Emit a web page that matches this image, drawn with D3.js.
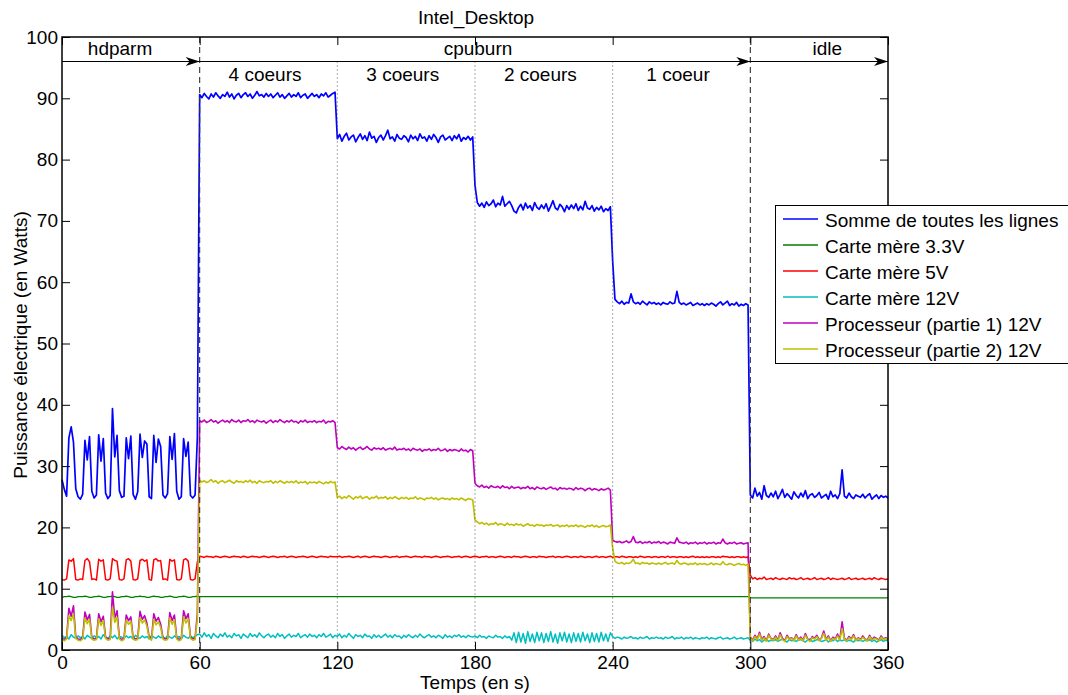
<!DOCTYPE html>
<html><head><meta charset="utf-8">
<script src="https://cdn.jsdelivr.net/npm/d3@7"></script>
<style>
body{margin:0;background:#fff}
svg text{font-family:"Liberation Sans",Arial,Helvetica,sans-serif;fill:#000}
</style>
</head><body>
<svg id="chart" width="1068" height="695"></svg>
<script>
// ---------- DATA ----------
const chartTitle = "Intel_Desktop";
const xLabel = "Temps (en s)";
const yLabel = "Puissance électrique (en Watts)";
const xTicks = [0, 60, 120, 180, 240, 300, 360];
const yTicks = [0, 10, 20, 30, 40, 50, 60, 70, 80, 90, 100];
const seriesNames = ["Somme de toutes les lignes", "Carte mère 3.3V", "Carte mère 5V", "Carte mère 12V", "Processeur (partie 1) 12V", "Processeur (partie 2) 12V"];
const seriesColors = ["#0000ff", "#008000", "#ff0000", "#00bfbf", "#bf00bf", "#bfbf00"];
// one sample per second, t = 0 .. 360
const somme = [
27.8,26.2,25.1,34.6,36.4,33.9,26.3,25.0,24.6,25.4,
34.2,31.0,34.8,25.9,24.8,25.3,35.1,30.8,34.5,25.6,
24.7,25.2,39.4,31.5,35.0,26.0,24.9,25.1,34.6,31.2,
34.9,25.4,24.6,25.8,35.2,31.4,34.1,33.6,25.0,24.7,
35.0,30.6,34.4,33.2,25.3,24.8,25.5,34.8,31.1,35.3,
25.9,24.6,25.0,34.5,31.6,33.9,25.2,24.8,25.3,34.7,
90.6,90.1,90.8,90.3,89.9,90.7,90.2,90.9,90.4,90.0,
90.6,90.3,91.0,90.2,90.7,89.9,90.5,90.8,90.1,90.6,
90.9,90.3,90.7,90.0,90.5,91.1,90.4,90.6,90.2,90.8,
90.3,90.7,90.1,90.5,90.9,90.2,90.6,90.0,90.4,90.8,
90.2,90.6,90.3,90.9,90.1,90.5,90.7,90.0,90.4,90.8,
90.3,90.6,90.1,90.7,90.4,90.9,90.2,90.5,90.8,91.0,
83.4,84.1,83.0,83.8,84.3,83.2,83.7,84.0,82.9,83.6,
84.2,83.3,83.9,83.1,84.5,83.5,83.8,82.8,83.6,84.0,
83.2,83.9,84.8,83.4,83.7,83.0,84.1,83.5,83.3,83.9,
83.6,82.9,84.0,83.4,83.8,83.1,84.2,83.5,83.7,83.0,
83.9,83.3,84.1,83.6,82.8,83.7,84.0,83.2,83.5,83.8,
83.1,83.9,83.4,84.1,83.0,83.6,83.3,83.8,83.2,83.7,
75.8,73.0,72.4,72.9,72.2,73.1,72.5,72.8,73.4,72.3,
72.9,72.6,74.0,72.4,72.8,73.2,72.5,71.6,71.3,72.2,
72.7,71.8,72.9,72.1,72.5,71.7,73.0,72.2,71.9,72.6,
72.0,72.8,71.6,72.4,73.3,72.1,71.8,72.7,72.3,71.5,
72.5,71.9,72.6,72.0,72.8,71.7,72.4,71.8,73.2,72.1,
71.9,72.5,71.6,72.2,71.8,72.4,71.5,72.0,71.7,72.3,
63.4,57.2,56.8,56.5,56.9,56.4,56.7,56.6,58.1,56.8,
56.5,56.7,56.4,56.9,56.6,56.3,56.8,56.5,56.7,56.4,
56.6,56.3,56.7,56.5,56.4,56.8,56.5,56.6,58.5,56.7,
56.4,56.6,56.3,56.5,56.7,56.2,56.4,56.6,56.3,56.5,
56.2,56.5,56.3,56.6,56.4,56.1,56.5,56.8,56.3,56.6,
56.9,56.2,56.5,56.3,56.7,56.1,56.4,56.2,56.5,56.3,
25.3,24.8,26.4,25.1,25.7,24.6,26.8,25.2,24.9,25.6,
25.0,25.9,24.7,25.4,26.2,24.9,25.5,25.1,24.6,25.8,
25.2,24.8,25.6,25.0,26.0,24.7,25.3,25.5,24.9,25.2,
25.7,24.8,25.1,25.4,24.6,25.9,25.0,25.3,24.7,25.5,
29.4,25.1,24.8,25.6,25.0,24.7,25.3,25.1,24.9,25.4,
24.8,25.2,25.5,24.6,25.0,25.3,24.7,25.2,24.9,25.1,24.8];
const carteMere33 = [
8.6,8.7,8.7,8.8,8.7,8.6,8.6,8.7,8.7,8.7,
8.8,8.7,8.6,8.6,8.7,8.7,8.8,8.7,8.6,8.6,
8.7,8.7,8.8,8.7,8.6,8.6,8.7,8.7,8.8,8.7,
8.6,8.6,8.7,8.7,8.8,8.7,8.7,8.6,8.6,8.7,
8.8,8.7,8.7,8.6,8.6,8.7,8.7,8.8,8.7,8.6,
8.6,8.7,8.7,8.8,8.7,8.6,8.6,8.7,8.7,8.8,
8.7,8.7,8.7,8.7,8.7,8.7,8.7,8.7,8.7,8.7,
8.7,8.7,8.7,8.7,8.7,8.7,8.7,8.7,8.7,8.7,
8.7,8.7,8.7,8.7,8.7,8.7,8.7,8.7,8.7,8.7,
8.7,8.7,8.7,8.7,8.7,8.7,8.7,8.7,8.7,8.7,
8.7,8.7,8.7,8.7,8.7,8.7,8.7,8.7,8.7,8.7,
8.7,8.7,8.7,8.7,8.7,8.7,8.7,8.7,8.7,8.7,
8.7,8.7,8.7,8.7,8.7,8.7,8.7,8.7,8.7,8.7,
8.7,8.7,8.7,8.7,8.7,8.7,8.7,8.7,8.7,8.7,
8.7,8.7,8.7,8.7,8.7,8.7,8.7,8.7,8.7,8.7,
8.7,8.7,8.7,8.7,8.7,8.7,8.7,8.7,8.7,8.7,
8.7,8.7,8.7,8.7,8.7,8.7,8.7,8.7,8.7,8.7,
8.7,8.7,8.7,8.7,8.7,8.7,8.7,8.7,8.7,8.7,
8.7,8.7,8.7,8.7,8.7,8.7,8.7,8.7,8.7,8.7,
8.7,8.7,8.7,8.7,8.7,8.7,8.7,8.7,8.7,8.7,
8.7,8.7,8.7,8.7,8.7,8.7,8.7,8.7,8.7,8.7,
8.7,8.7,8.7,8.7,8.7,8.7,8.7,8.7,8.7,8.7,
8.7,8.7,8.7,8.7,8.7,8.7,8.7,8.7,8.7,8.7,
8.7,8.7,8.7,8.7,8.7,8.7,8.7,8.7,8.7,8.7,
8.7,8.7,8.7,8.7,8.7,8.7,8.7,8.7,8.7,8.7,
8.7,8.7,8.7,8.7,8.7,8.7,8.7,8.7,8.7,8.7,
8.7,8.7,8.7,8.7,8.7,8.7,8.7,8.7,8.7,8.7,
8.7,8.7,8.7,8.7,8.7,8.7,8.7,8.7,8.7,8.7,
8.7,8.7,8.7,8.7,8.7,8.7,8.7,8.7,8.7,8.7,
8.7,8.7,8.7,8.7,8.7,8.7,8.7,8.7,8.7,8.7,
8.5,8.5,8.5,8.5,8.5,8.5,8.5,8.5,8.5,8.5,
8.5,8.5,8.5,8.5,8.5,8.5,8.5,8.5,8.5,8.5,
8.5,8.5,8.5,8.5,8.5,8.5,8.5,8.5,8.5,8.5,
8.5,8.5,8.5,8.5,8.5,8.5,8.5,8.5,8.5,8.5,
8.5,8.5,8.5,8.5,8.5,8.5,8.5,8.5,8.5,8.5,
8.5,8.5,8.5,8.5,8.5,8.5,8.5,8.5,8.5,8.5,8.5];
const carteMere5 = [
11.5,11.4,11.6,14.7,14.5,14.9,11.5,11.4,11.6,11.5,
14.6,14.9,14.4,11.5,11.6,11.4,14.8,14.5,14.7,11.5,
11.4,11.6,14.9,14.6,14.5,11.5,11.4,11.6,14.7,14.9,
14.5,11.5,11.4,11.6,14.6,14.8,14.5,14.7,11.5,11.4,
14.7,14.9,14.5,14.6,11.5,11.6,11.4,14.8,14.5,14.7,
11.5,11.4,11.6,14.7,14.9,14.5,11.5,11.4,11.6,14.4,
15.3,15.2,15.1,15.3,15.2,15.2,15.1,15.3,15.2,15.1,
15.2,15.3,15.2,15.1,15.2,15.3,15.2,15.2,15.1,15.3,
15.2,15.1,15.2,15.3,15.2,15.2,15.1,15.2,15.3,15.2,
15.1,15.2,15.3,15.2,15.1,15.2,15.2,15.3,15.1,15.2,
15.3,15.2,15.1,15.2,15.2,15.3,15.2,15.1,15.2,15.3,
15.2,15.1,15.2,15.3,15.2,15.2,15.1,15.3,15.2,15.2,
15.2,15.3,15.1,15.2,15.2,15.3,15.2,15.1,15.2,15.3,
15.1,15.2,15.3,15.2,15.1,15.2,15.3,15.2,15.2,15.1,
15.2,15.3,15.2,15.1,15.2,15.2,15.3,15.1,15.2,15.2,
15.3,15.2,15.1,15.2,15.3,15.2,15.2,15.1,15.3,15.2,
15.2,15.1,15.2,15.3,15.2,15.1,15.2,15.2,15.3,15.2,
15.1,15.2,15.2,15.3,15.1,15.2,15.3,15.2,15.1,15.2,
15.3,15.2,15.1,15.2,15.2,15.3,15.1,15.2,15.2,15.1,
15.2,15.3,15.2,15.1,15.2,15.2,15.1,15.3,15.2,15.2,
15.1,15.2,15.3,15.2,15.1,15.2,15.2,15.1,15.3,15.2,
15.2,15.1,15.2,15.2,15.3,15.1,15.2,15.2,15.1,15.2,
15.3,15.2,15.1,15.2,15.2,15.1,15.3,15.2,15.1,15.2,
15.2,15.1,15.2,15.3,15.1,15.2,15.2,15.1,15.2,15.3,
15.1,15.2,15.2,15.1,15.3,15.2,15.1,15.2,15.2,15.1,
15.2,15.1,15.3,15.2,15.1,15.2,15.2,15.1,15.2,15.2,
15.1,15.2,15.2,15.1,15.3,15.1,15.2,15.2,15.1,15.2,
15.2,15.1,15.2,15.1,15.2,15.3,15.1,15.2,15.1,15.2,
15.1,15.2,15.1,15.2,15.2,15.1,15.2,15.1,15.3,15.2,
15.2,15.1,15.2,15.1,15.2,15.2,15.1,15.2,15.1,15.2,
12.2,11.6,11.8,11.5,11.7,11.6,11.9,11.5,11.6,11.7,
11.5,11.8,11.6,11.5,11.7,11.6,11.5,11.8,11.6,11.7,
11.5,11.6,11.8,11.5,11.6,11.7,11.5,11.6,11.8,11.5,
11.6,11.7,11.5,11.6,11.8,11.5,11.7,11.6,11.5,11.6,
11.7,11.5,11.6,11.8,11.5,11.6,11.7,11.5,11.6,11.7,
11.5,11.6,11.7,11.5,11.8,11.6,11.5,11.7,11.6,11.5,11.6];
const carteMere12 = [
2.4,2.0,2.2,1.8,2.5,2.1,1.9,2.3,2.0,2.2,
1.8,2.4,2.1,1.9,2.3,2.0,2.2,1.8,2.5,2.1,
1.9,2.3,2.0,2.4,1.8,2.2,2.1,1.9,2.3,2.0,
2.2,1.8,2.4,2.1,1.9,2.3,2.0,2.2,1.8,2.4,
2.1,1.9,2.3,2.0,2.2,1.8,2.4,2.1,1.9,2.3,
2.0,2.2,1.8,2.4,2.1,1.9,2.3,2.0,2.2,2.5,
2.6,2.1,2.8,2.2,2.5,1.9,2.7,2.3,2.0,2.6,
2.2,2.8,2.1,2.4,2.0,2.7,2.3,2.5,1.9,2.6,
2.3,2.0,2.7,2.2,2.5,2.1,2.8,2.3,2.0,2.4,
2.6,2.1,2.4,2.0,2.7,2.2,2.5,1.9,2.3,2.6,
2.1,2.4,2.2,2.7,2.0,2.3,2.5,2.1,2.6,2.2,
2.4,2.0,2.5,2.2,2.7,2.1,2.3,2.6,2.0,2.4,
2.2,2.6,2.0,2.4,2.1,2.7,2.3,1.9,2.5,2.2,
2.4,2.0,2.6,2.2,2.3,1.9,2.5,2.1,2.4,2.0,
2.3,2.6,2.1,2.4,2.0,2.5,2.2,2.3,1.9,2.4,
2.1,2.5,2.2,2.0,2.4,2.1,2.6,2.2,2.0,2.3,
2.5,2.1,2.3,2.0,2.4,2.2,1.9,2.5,2.1,2.3,
2.0,2.4,2.2,2.5,2.1,2.3,2.0,2.4,2.2,2.1,
2.3,2.0,2.4,2.1,2.2,1.9,2.3,2.1,2.0,2.4,
2.1,2.2,1.9,2.3,2.0,2.2,1.6,2.8,1.2,2.9,
1.3,2.7,1.1,3.0,1.4,2.6,1.2,2.9,1.5,2.8,
1.2,2.7,1.4,3.0,1.3,2.6,1.1,2.8,1.5,2.9,
1.3,2.6,1.2,2.8,1.4,2.7,1.3,2.9,1.5,2.6,
1.2,2.8,1.4,2.7,1.3,2.9,1.5,2.6,1.4,2.8,
2.2,1.9,2.1,2.0,1.8,2.1,1.9,2.0,2.2,1.9,
2.0,1.8,2.1,1.9,2.0,2.2,1.8,2.0,1.9,2.1,
1.9,2.0,1.8,2.1,1.9,2.0,2.2,1.8,2.0,1.9,
2.1,1.8,2.0,1.9,2.1,1.8,2.0,1.9,1.8,2.0,
1.9,2.1,1.8,2.0,1.9,1.8,2.0,2.1,1.8,1.9,
2.0,1.8,1.9,2.1,1.8,1.9,2.0,1.8,1.9,2.0,
1.6,1.4,1.8,1.5,1.7,1.3,1.6,1.8,1.4,1.6,
1.5,1.7,1.4,1.6,1.8,1.5,1.3,1.7,1.5,1.6,
1.4,1.6,1.7,1.5,1.3,1.6,1.8,1.4,1.5,1.7,
1.6,1.4,1.5,1.7,1.3,1.6,1.5,1.8,1.4,1.6,
1.5,1.7,1.4,1.6,1.5,1.3,1.7,1.5,1.6,1.4,
1.6,1.5,1.7,1.4,1.6,1.3,1.5,1.7,1.4,1.6,1.5];
const processeur1 = [
1.9,1.7,2.0,6.8,5.5,7.2,2.1,1.8,1.7,2.0,
6.2,4.9,5.8,2.0,1.8,1.9,5.9,4.6,5.5,2.1,
1.8,1.9,9.5,5.2,6.4,2.0,1.7,1.9,5.7,4.8,
5.4,2.0,1.8,1.9,6.3,5.0,5.6,4.4,2.1,1.8,
5.9,4.7,5.3,4.2,2.0,1.8,1.9,6.1,4.8,5.7,
2.0,1.7,1.9,6.4,5.1,5.9,2.1,1.8,1.9,6.0,
37.4,37.2,37.5,37.1,37.3,37.6,37.2,37.4,37.0,37.3,
37.5,37.2,37.4,37.1,37.6,37.3,37.2,37.5,37.1,37.4,
37.3,37.6,37.2,37.4,37.1,37.5,37.3,37.2,37.4,37.0,
37.3,37.5,37.1,37.4,37.2,37.6,37.3,37.1,37.4,37.2,
37.5,37.2,37.3,37.0,37.4,37.2,37.5,37.1,37.3,37.2,
37.4,37.1,37.3,37.2,37.5,37.0,37.3,37.2,37.4,37.1,
33.0,32.8,33.2,32.9,32.7,33.1,32.8,33.0,32.6,32.9,
33.1,32.7,32.9,33.2,32.8,32.6,33.0,32.8,32.9,32.7,
33.0,32.6,32.8,32.9,32.7,33.1,32.6,32.8,32.7,32.9,
32.6,32.8,32.5,32.9,32.7,32.6,32.8,32.4,32.7,32.6,
32.8,32.5,32.7,32.6,32.9,32.5,32.6,32.8,32.4,32.7,
32.5,32.7,32.6,32.4,32.8,32.5,32.6,32.3,32.7,32.5,
27.2,26.8,26.6,26.9,26.5,26.7,26.4,26.8,26.6,26.5,
26.7,26.4,26.8,26.5,26.6,26.3,26.7,26.4,26.5,26.6,
26.3,26.5,26.4,26.7,26.3,26.5,26.2,26.6,26.4,26.3,
26.5,26.2,26.4,26.6,26.3,26.4,26.1,26.5,26.3,26.4,
26.2,26.4,26.3,26.1,26.5,26.2,26.4,26.3,26.0,26.3,
26.4,26.1,26.3,26.2,26.0,26.3,26.1,26.2,26.4,26.1,
17.9,17.7,17.6,17.7,17.5,17.6,17.8,17.5,17.7,18.5,
17.6,17.5,17.7,17.4,17.6,17.5,17.7,17.4,17.6,17.5,
17.7,17.4,17.6,17.5,17.3,17.6,17.5,17.4,18.3,17.6,
17.5,17.4,17.6,17.3,17.5,17.4,17.6,17.3,17.5,17.4,
17.6,17.3,17.5,17.4,17.6,17.3,17.5,17.4,18.1,17.5,
17.3,17.5,17.4,17.6,17.3,17.4,17.5,17.3,17.4,17.5,
2.1,1.6,2.4,1.8,2.9,1.7,2.2,1.5,2.6,1.9,
1.7,2.3,1.6,2.8,1.9,1.5,2.4,1.8,2.0,1.6,
2.5,1.7,2.1,1.6,2.7,1.8,1.5,2.2,1.9,2.4,
1.6,2.0,3.1,1.7,2.3,1.5,2.1,1.8,2.6,1.7,
4.6,1.9,1.6,2.2,1.8,2.5,1.6,2.0,1.7,2.3,
1.8,1.6,2.4,1.7,2.1,1.9,1.6,2.3,1.8,2.0,1.7];
const processeur2 = [
1.7,1.5,1.8,5.6,4.8,5.9,1.9,1.6,1.5,1.8,
5.2,4.3,5.0,1.8,1.6,1.7,5.1,4.0,4.8,1.9,
1.6,1.7,7.0,4.5,5.3,1.8,1.5,1.7,4.9,4.2,
4.7,1.8,1.6,1.7,5.3,4.4,4.9,3.9,1.9,1.6,
5.0,4.1,4.6,3.7,1.8,1.6,1.7,5.2,4.2,4.9,
1.8,1.5,1.7,5.4,4.4,5.1,1.9,1.6,1.7,5.1,
27.7,27.4,27.6,27.3,27.5,27.8,27.4,27.6,27.2,27.5,
27.6,27.3,27.5,27.7,27.4,27.2,27.6,27.4,27.5,27.3,
27.6,27.4,27.7,27.3,27.5,27.2,27.6,27.4,27.3,27.5,
27.4,27.6,27.2,27.5,27.3,27.6,27.4,27.2,27.5,27.3,
27.5,27.3,27.6,27.2,27.4,27.3,27.5,27.1,27.4,27.3,
27.4,27.2,27.5,27.3,27.1,27.4,27.2,27.5,27.3,27.4,
24.9,25.1,24.7,25.0,24.8,25.2,24.9,24.6,25.0,24.8,
25.1,24.7,24.9,25.0,24.6,24.9,24.8,25.1,24.7,24.9,
24.8,25.0,24.6,24.9,24.7,25.0,24.8,24.6,24.9,24.7,
24.9,24.6,24.8,24.7,25.0,24.6,24.8,24.7,24.5,24.8,
24.7,24.9,24.6,24.8,24.5,24.7,24.8,24.6,24.7,24.5,
24.8,24.6,24.7,24.5,24.8,24.6,24.4,24.7,24.6,24.5,
21.2,20.9,20.6,20.8,20.5,20.7,20.4,20.6,20.5,20.8,
20.4,20.6,20.5,20.3,20.7,20.4,20.5,20.3,20.6,20.4,
20.5,20.2,20.4,20.6,20.3,20.4,20.2,20.5,20.3,20.4,
20.2,20.4,20.3,20.5,20.2,20.3,20.4,20.1,20.3,20.2,
20.4,20.1,20.3,20.2,20.4,20.1,20.3,20.2,20.0,20.3,
20.2,20.4,20.1,20.3,20.0,20.2,20.3,20.1,20.2,20.4,
16.6,14.5,14.2,14.1,14.3,14.0,14.2,14.1,14.3,14.8,
14.1,14.2,14.0,14.3,14.1,14.2,14.0,14.2,14.1,14.0,
14.2,14.0,14.1,14.3,14.0,14.1,14.2,14.0,14.6,14.1,
14.0,14.2,14.1,13.9,14.1,14.0,14.2,13.9,14.1,14.0,
14.1,13.9,14.0,14.2,13.9,14.1,14.0,13.9,14.4,14.0,
13.9,14.1,14.0,13.8,14.0,14.1,13.9,14.0,13.8,14.0,
1.9,1.5,2.2,1.7,2.6,1.6,2.0,1.4,2.4,1.8,
1.6,2.1,1.5,2.5,1.7,1.4,2.2,1.7,1.9,1.5,
2.3,1.6,1.9,1.5,2.4,1.7,1.4,2.0,1.8,2.2,
1.5,1.9,2.7,1.6,2.1,1.4,1.9,1.7,2.3,1.6,
3.5,1.8,1.5,2.0,1.7,2.3,1.5,1.9,1.6,2.1,
1.7,1.5,2.2,1.6,1.9,1.8,1.5,2.1,1.7,1.9,1.6];
// phase annotations (time in s)
const phaseNames = ["hdparm", "cpuburn", "idle"];
const phaseEnds = [60, 300, 360];
const phaseLabelAt = [25.3, 181.3, 333.5];
const subPhaseNames = ["4 coeurs", "3 coeurs", "2 coeurs", "1 coeur"];
const subPhaseLabelAt = [88.5, 148.5, 208.5, 268.5];
const majorBounds = [60, 300];
const minorBounds = [120, 180, 240];
const arrowLevel = 96;

// ---------- LAYOUT ----------
const FONT = 19;
const svg = d3.select("#chart");
const x = d3.scaleLinear().domain([0, 360]).range([62, 888]);
const y = d3.scaleLinear().domain([0, 100]).range([650, 37]);

const allSeries = [somme, carteMere33, carteMere5, carteMere12, processeur1, processeur2];
const strokeW = [1.7, 1.3, 1.5, 1.5, 1.6, 1.6];

// data lines
const line = d3.line().x((d, i) => x(i)).y(d => y(d));
svg.append("g").selectAll("path").data(allSeries).join("path")
  .attr("d", d => line(d))
  .attr("fill", "none")
  .attr("stroke", (d, i) => seriesColors[i])
  .attr("stroke-width", (d, i) => strokeW[i])
  .attr("stroke-linejoin", "round");

// phase boundaries
svg.append("g").selectAll("line").data(majorBounds).join("line")
  .attr("x1", d => x(d)).attr("x2", d => x(d))
  .attr("y1", y(100)).attr("y2", y(0))
  .attr("stroke", "#333").attr("stroke-width", 1.1)
  .attr("stroke-dasharray", "6,4");
svg.append("g").selectAll("line").data(minorBounds).join("line")
  .attr("x1", d => x(d)).attr("x2", d => x(d))
  .attr("y1", y(arrowLevel)).attr("y2", y(0))
  .attr("stroke", "#555").attr("stroke-width", 1)
  .attr("stroke-dasharray", "1,3");

// arrow line
svg.append("line")
  .attr("x1", x(0)).attr("x2", x(360))
  .attr("y1", y(arrowLevel)).attr("y2", y(arrowLevel))
  .attr("stroke", "#000").attr("stroke-width", 1.2);
svg.append("g").selectAll("path").data(phaseEnds).join("path")
  .attr("d", d => {
    const xe = x(d), ya = y(arrowLevel);
    return `M${xe},${ya} L${xe - 14},${ya - 4.5} L${xe - 10},${ya} L${xe - 14},${ya + 4.5} Z`;
  })
  .attr("fill", "#000");

// phase labels
svg.append("g").selectAll("text").data(phaseNames).join("text")
  .attr("x", (d, i) => x(phaseLabelAt[i])).attr("y", 54.5)
  .attr("text-anchor", "middle").attr("font-size", FONT).text(d => d);
svg.append("g").selectAll("text").data(subPhaseNames).join("text")
  .attr("x", (d, i) => x(subPhaseLabelAt[i])).attr("y", 80.5)
  .attr("text-anchor", "middle").attr("font-size", FONT).text(d => d);

// axes
function styleAxis(g) {
  g.attr("font-size", FONT).attr("font-family", null);
  g.select(".domain").remove();
  g.selectAll(".tick line").attr("stroke", "#000").attr("stroke-width", 1);
  g.selectAll(".tick text").attr("fill", "#000");
}
svg.append("g").attr("transform", `translate(0,${y(0)})`)
  .call(d3.axisBottom(x).tickValues(xTicks).tickSize(-8).tickPadding(6)).call(styleAxis);
svg.append("g").attr("transform", `translate(${x(0)},0)`)
  .call(d3.axisLeft(y).tickValues(yTicks).tickSize(-8).tickPadding(4)).call(styleAxis);
svg.append("g").attr("transform", `translate(0,${y(100)})`)
  .call(d3.axisTop(x).tickValues(xTicks).tickSize(-8).tickFormat("")).call(styleAxis);
svg.append("g").attr("transform", `translate(${x(360)},0)`)
  .call(d3.axisRight(y).tickValues(yTicks).tickSize(-8).tickFormat("")).call(styleAxis);

// frame
svg.append("rect")
  .attr("x", x(0)).attr("y", y(100))
  .attr("width", x(360) - x(0)).attr("height", y(0) - y(100))
  .attr("fill", "none").attr("stroke", "#000").attr("stroke-width", 1.5);

// title & labels
svg.append("text").attr("x", 476).attr("y", 24).attr("text-anchor", "middle")
  .attr("font-size", FONT).text(chartTitle);
svg.append("text").attr("x", 475).attr("y", 689).attr("text-anchor", "middle")
  .attr("font-size", FONT).text(xLabel);
svg.append("text").attr("transform", "translate(26.5,345) rotate(-90)")
  .attr("text-anchor", "middle").attr("font-size", FONT).text(yLabel);

// legend
const lg = svg.append("g");
lg.append("rect").attr("x", 775.5).attr("y", 205.5).attr("width", 300).attr("height", 158)
  .attr("fill", "#fff").attr("stroke", "#000").attr("stroke-width", 1);
const items = lg.selectAll("g.item").data(seriesNames).join("g").attr("class", "item")
  .attr("transform", (d, i) => `translate(0,${219 + i * 26})`);
items.append("line").attr("x1", 783).attr("x2", 818).attr("y1", 0).attr("y2", 0)
  .attr("stroke", (d, i) => seriesColors[i]).attr("stroke-width", 1.3);
items.append("text").attr("x", 825).attr("y", 7.5).attr("font-size", FONT).text(d => d);
</script>
</body></html>
